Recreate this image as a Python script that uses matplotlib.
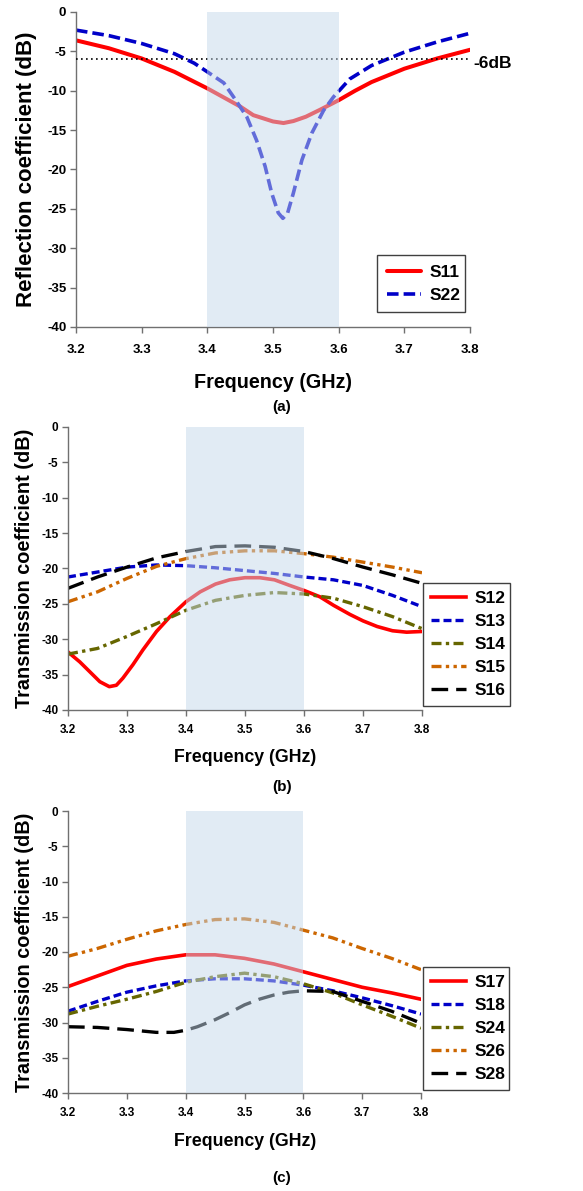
import matplotlib
matplotlib.use("Agg")
import matplotlib.pyplot as plt

plt.rcParams['font.family'] = ['Liberation Sans', 'DejaVu Sans']
plt.rcParams['font.weight'] = 'bold'

W, H = 583, 1191

# ---------------- data (a) ----------------
f_s11 = [3.2, 3.25, 3.3, 3.35, 3.4, 3.45, 3.47, 3.5, 3.516, 3.531, 3.55, 3.572, 3.6,
         3.625, 3.65, 3.7, 3.75, 3.8]
s11 = [-3.6, -4.6, -5.9, -7.6, -9.7, -12.0, -13.1, -13.9, -14.1, -13.85, -13.3, -12.4, -11.2,
       -10.0, -8.9, -7.2, -5.9, -4.8]

f_s22 = [3.2, 3.25, 3.3, 3.35, 3.38, 3.4, 3.425, 3.44, 3.46, 3.475, 3.488, 3.498, 3.508,
         3.515, 3.522, 3.531, 3.544, 3.559, 3.577, 3.592, 3.617, 3.65, 3.7, 3.75, 3.8]
s22 = [-2.3, -3.0, -4.0, -5.3, -6.5, -7.6, -9.0, -10.8, -13.3, -16.3, -19.6, -23.0, -25.5,
       -26.2, -25.6, -23.0, -18.8, -15.4, -12.5, -10.8, -8.5, -6.8, -5.1, -3.8, -2.7]

# ---------------- data (b) ----------------
f_b = [3.2, 3.25, 3.3, 3.35, 3.4, 3.45, 3.5, 3.55, 3.6, 3.65, 3.7, 3.75, 3.8]
f_s12 = [3.2, 3.22, 3.237, 3.254, 3.27, 3.282, 3.293, 3.31, 3.327, 3.35, 3.373, 3.4, 3.424,
         3.45, 3.474, 3.5, 3.525, 3.55, 3.576, 3.6, 3.627, 3.65, 3.678, 3.7, 3.724, 3.75,
         3.774, 3.8]
s12 = [-31.8, -33.2, -34.6, -36.0, -36.7, -36.5, -35.5, -33.6, -31.5, -28.9, -26.8, -24.7, -23.3,
       -22.2, -21.6, -21.3, -21.3, -21.6, -22.4, -23.1, -24.0, -25.2, -26.5, -27.4, -28.2, -28.8,
       -29.0, -28.9]
s13 = [-21.2, -20.5, -19.8, -19.5, -19.6, -19.9, -20.3, -20.7, -21.2, -21.6, -22.4, -23.8, -25.4]
s14 = [-32.1, -31.3, -29.6, -27.8, -25.9, -24.5, -23.8, -23.4, -23.6, -24.2, -25.4, -26.8, -28.5]
s15 = [-24.7, -23.3, -21.4, -19.7, -18.6, -17.8, -17.5, -17.5, -17.9, -18.4, -19.1, -19.8, -20.6]
s16 = [-22.8, -21.2, -19.8, -18.5, -17.6, -16.9, -16.8, -17.0, -17.6, -18.6, -19.8, -20.9, -22.1]

# ---------------- data (c) ----------------
f_c = [3.2, 3.25, 3.3, 3.35, 3.4, 3.45, 3.5, 3.55, 3.6, 3.65, 3.7, 3.75, 3.8]
s17 = [-24.9, -23.4, -21.9, -21.0, -20.4, -20.4, -20.9, -21.7, -22.8, -23.9, -25.0, -25.8, -26.7]
s18 = [-28.4, -27.0, -25.7, -24.8, -24.1, -23.8, -23.8, -24.1, -24.7, -25.5, -26.5, -27.6, -28.8]
s24 = [-28.8, -27.7, -26.7, -25.6, -24.3, -23.5, -23.0, -23.5, -24.5, -25.8, -27.5, -29.1, -30.8]
s26 = [-20.6, -19.5, -18.2, -17.0, -16.1, -15.4, -15.3, -15.8, -16.9, -18.0, -19.5, -20.9, -22.5]
f_s28 = [3.2, 3.25, 3.3, 3.35, 3.38, 3.4, 3.42, 3.45, 3.475, 3.5, 3.525, 3.55, 3.575, 3.6,
         3.65, 3.7, 3.75, 3.8]
s28 = [-30.6, -30.7, -31.0, -31.4, -31.4, -31.1, -30.6, -29.6, -28.6, -27.5, -26.7, -26.1, -25.7,
       -25.5, -25.6, -27.0, -28.4, -30.1]

xticks = [3.2, 3.3, 3.4, 3.5, 3.6, 3.7, 3.8]
xtick_labels = ['3.2', '3.3', '3.4', '3.5', '3.6', '3.7', '3.8']
yticks = [0, -5, -10, -15, -20, -25, -30, -35, -40]
band = (3.4, 3.6)

RED = '#ff0000'
BLUE = '#0000c8'
OLIVE = '#666600'
ORANGE = '#cc6600'
BLACK = '#000000'
SPINE = '#707070'

fig = plt.figure(figsize=(W / 100, H / 100), dpi=100)


def px_axes(l, t, r, b):
    return fig.add_axes([l / W, 1 - b / H, (r - l) / W, (b - t) / H])


def style(ax, tick_fs, xpad):
    ax.set_xlim(3.2, 3.8)
    ax.set_ylim(-40, 0)
    ax.set_xticks(xticks)
    ax.set_xticklabels(xtick_labels)
    ax.set_yticks(yticks)
    ax.set_yticklabels([str(v) for v in yticks])
    for s in ('top', 'right'):
        ax.spines[s].set_visible(False)
    for s in ('left', 'bottom'):
        ax.spines[s].set_color(SPINE)
        ax.spines[s].set_linewidth(1.0)
    ax.tick_params(axis='both', direction='out', length=4, width=1.0, color=SPINE,
                   labelsize=tick_fs, pad=3)
    ax.tick_params(axis='x', pad=xpad)
    for lab in ax.get_xticklabels() + ax.get_yticklabels():
        lab.set_fontweight('bold')
    ax.axvspan(band[0], band[1], color='#c4d8eb', alpha=0.5, lw=0, zorder=5)


def ftext(x, y, s, fs, **kw):
    fig.text(x / W, 1 - y / H, s, fontsize=fs, fontweight='bold', **kw)


def add_legend(ax, handles, box, borderpad, labelspacing):
    l, t, r, b = box
    lg = ax.legend(handles=handles, loc='upper left',
                   bbox_to_anchor=(l / W, 1 - b / H, (r - l) / W, (b - t) / H),
                   bbox_transform=fig.transFigure, mode='expand', borderaxespad=0,
                   fancybox=False, frameon=True, edgecolor='#404040', framealpha=1,
                   prop={'weight': 'bold', 'size': 12.5}, handlelength=2.0,
                   handletextpad=0.5, borderpad=borderpad, labelspacing=labelspacing)
    lg.get_frame().set_linewidth(1.0)
    lg.set_zorder(10)
    return lg


# ---------------- panel (a) ----------------
ax1 = px_axes(76, 12, 470, 327)
l1, = ax1.plot(f_s11, s11, color=RED, lw=2.9, label='S11', solid_capstyle='round',
               solid_joinstyle='round')
l2, = ax1.plot(f_s22, s22, color=BLUE, lw=2.6, ls=(0, (3.2, 1.4)), label='S22')
ax1.axhline(-6, color='black', lw=1.2, ls=(0, (1, 2)), zorder=3)
style(ax1, 9.5, 8)
ftext(473, 63, '-6dB', 12.5, ha='left', va='center')
ftext(27, 169, 'Reflection coefficient (dB)', 16, rotation=90, ha='center', va='center')
ftext(273, 382, 'Frequency (GHz)', 14.2, ha='center', va='center')
ftext(282, 407, '(a)', 11, ha='center', va='center')
add_legend(ax1, [l1, l2], (377, 255, 465, 313), 0.55, 0.45)


def panel(top, bottom, right, series, letter, leg_box):
    ax = px_axes(68, top, right, bottom)
    handles = []
    for x, y, c, ls, lw, lab in series:
        h, = ax.plot(x, y, color=c, lw=lw, ls=ls, label=lab, solid_joinstyle='round')
        handles.append(h)
    style(ax, 8.5, 6)
    cy = (top + bottom) / 2
    ftext(25, cy, 'Transmission coefficient (dB)', 14.3, rotation=90, ha='center', va='center')
    ftext(245, bottom + 48, 'Frequency (GHz)', 12.8, ha='center', va='center')
    ftext(282, bottom + (77 if letter == '(b)' else 85), letter, 11, ha='center', va='center')
    add_legend(ax, handles, leg_box, 0.45, 0.45)
    return ax


DASH = (0, (2.4, 1.2))
DASHDOT = (0, (3.0, 1.3, 1.0, 1.3))
DASHDOTDOT = (0, (3.0, 1.3, 1.0, 1.3, 1.0, 1.3))
LONGDASH = (0, (5.0, 2.4))

panel(427, 710, 422, [
    (f_s12, s12, RED, '-', 2.6, 'S12'),
    (f_b, s13, BLUE, DASH, 2.4, 'S13'),
    (f_b, s14, OLIVE, DASHDOT, 2.4, 'S14'),
    (f_b, s15, ORANGE, DASHDOTDOT, 2.4, 'S15'),
    (f_b, s16, BLACK, LONGDASH, 2.4, 'S16'),
], '(b)', (423, 583, 510, 707))

panel(811, 1093, 421, [
    (f_c, s17, RED, '-', 2.6, 'S17'),
    (f_c, s18, BLUE, DASH, 2.4, 'S18'),
    (f_c, s24, OLIVE, DASHDOT, 2.4, 'S24'),
    (f_c, s26, ORANGE, DASHDOTDOT, 2.4, 'S26'),
    (f_s28, s28, BLACK, LONGDASH, 2.4, 'S28'),
], '(c)', (423, 967, 509, 1090))

fig.savefig('out.png', dpi=100)
